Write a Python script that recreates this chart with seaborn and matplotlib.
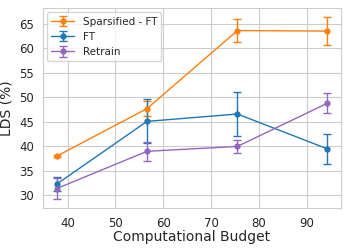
import numpy as np
import seaborn as sns
import matplotlib
matplotlib.use("Agg")
import matplotlib.pyplot as plt
from matplotlib.ticker import MultipleLocator

sns.set_style("whitegrid")

budget = [37.7, 56.6, 75.5, 94.3]

sparse_ft = [38.0, 47.7, 63.6, 63.5]
sparse_ft_err = [0.2, 1.6, 2.3, 2.8]

ft = [32.3, 45.1, 46.6, 39.5]
ft_err = [1.4, 4.5, 4.5, 3.0]

retrain = [31.4, 39.0, 40.0, 48.8]
retrain_err = [2.1, 1.9, 1.3, 2.0]

fig, ax = plt.subplots(figsize=(3.5, 2.5), dpi=100)

ax.errorbar(budget, sparse_ft, yerr=sparse_ft_err, color="tab:orange", marker="o",
            markersize=3.5, linewidth=1, capsize=3, label="Sparsified - FT")
ax.errorbar(budget, ft, yerr=ft_err, color="tab:blue", marker="o",
            markersize=3.5, linewidth=1, capsize=3, label="FT")
ax.errorbar(budget, retrain, yerr=retrain_err, color="tab:purple", marker="o",
            markersize=3.5, linewidth=1, capsize=3, label="Retrain")

ax.yaxis.set_major_locator(MultipleLocator(5))
ax.set_xlabel("Computational Budget", fontsize=10, labelpad=0)
ax.set_ylabel("LDS (%)", fontsize=10, labelpad=4)
ax.tick_params(labelsize=8.5, pad=3)
ax.legend(fontsize=7.5, loc="upper left", labelspacing=0.5, handlelength=2.2,
          borderaxespad=0.4)

plt.subplots_adjust(left=0.123, right=0.974, top=0.967, bottom=0.168)
plt.savefig("out.png")
